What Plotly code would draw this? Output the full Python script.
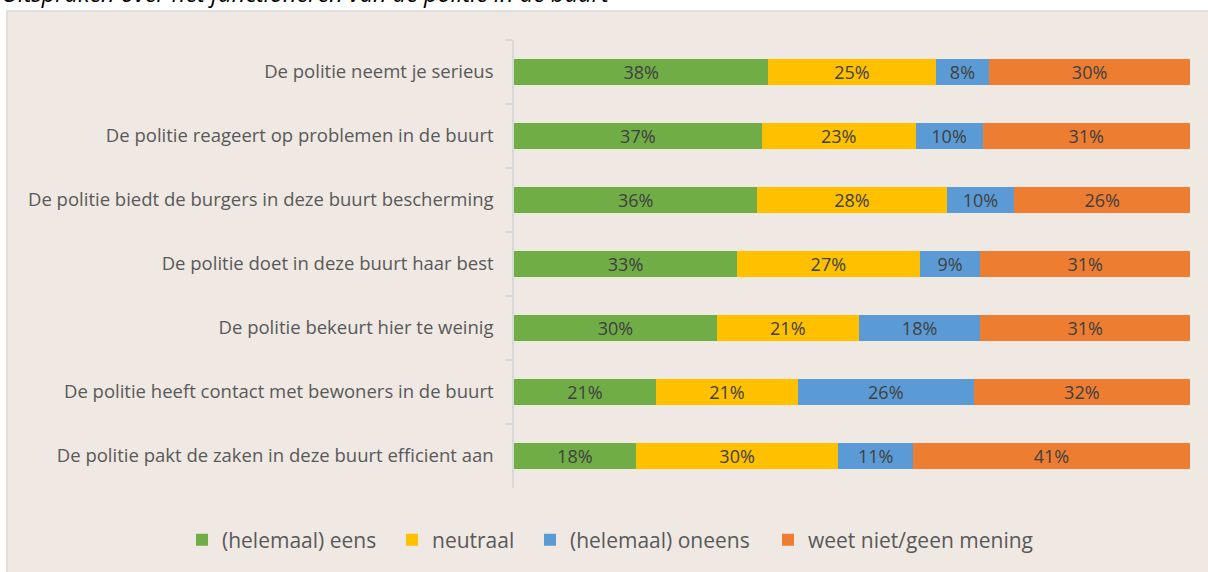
import plotly.graph_objects as go

# Statements about police functioning in the neighbourhood (share of respondents, %)
statements = [
    "De politie neemt je serieus",
    "De politie reageert op problemen in de buurt",
    "De politie biedt de burgers in deze buurt bescherming",
    "De politie doet in deze buurt haar best",
    "De politie bekeurt hier te weinig",
    "De politie heeft contact met bewoners in de buurt",
    "De politie pakt de zaken in deze buurt efficient aan",
]
eens = [38, 37, 36, 33, 30, 21, 18]
neutraal = [25, 23, 28, 27, 21, 21, 30]
oneens = [8, 10, 10, 9, 18, 26, 11]
weet_niet = [30, 31, 26, 31, 31, 32, 41]

series = [
    ("(helemaal) eens", eens, "#70ad47"),
    ("neutraal", neutraal, "#ffc000"),
    ("(helemaal) oneens", oneens, "#5b9bd5"),
    ("weet niet/geen mening", weet_niet, "#ed7d31"),
]

title_text = "Uitspraken over het functioneren van de politie in de buurt"

FONT = "Open Sans"
TEXT_GREY = "#595959"
PANEL_BG = "#efe8e3"

W, H = 1208, 572
L, R, T, B = 514, 18, 40, 84
pw, ph = W - L - R, H - T - B


def px_x(x):
    return (x - L) / pw


def px_y(y):
    return (H - B - y) / ph


# left edge (px) of each legend entry, one legend box per series
legend_left_px = [182, 392, 530, 768]
legend_ids = ["legend", "legend2", "legend3", "legend4"]

fig = go.Figure()
for (name, values, color), lid in zip(series, legend_ids):
    fig.add_trace(go.Bar(
        name=name,
        y=statements,
        x=values,
        orientation="h",
        marker=dict(color=color, line=dict(width=0)),
        text=[f"{v}%" for v in values],
        textposition="inside",
        insidetextanchor="middle",
        textangle=0,
        textfont=dict(family=FONT, size=18, color="#404040"),
        hoverinfo="skip",
        legend=lid,
        showlegend=True,
    ))

legend_layouts = {}
for lid, left in zip(legend_ids, legend_left_px):
    legend_layouts[lid] = dict(
        orientation="h",
        xref="paper",
        x=px_x(left),
        xanchor="left",
        yref="paper",
        y=px_y(540),
        yanchor="middle",
        font=dict(family=FONT, size=21, color=TEXT_GREY),
        bgcolor="rgba(0,0,0,0)",
        itemclick=False,
        itemdoubleclick=False,
    )

fig.update_layout(
    width=W,
    height=H,
    showlegend=True,
    barmode="stack",
    barnorm="percent",
    bargap=0.59,
    uniformtext=dict(minsize=18, mode="show"),
    margin=dict(l=L, r=R, t=T, b=B),
    paper_bgcolor="white",
    plot_bgcolor=PANEL_BG,
    font=dict(family=FONT, color=TEXT_GREY),
    xaxis=dict(
        range=[0, 100],
        visible=False,
        showgrid=False,
        zeroline=False,
    ),
    yaxis=dict(
        categoryorder="array",
        categoryarray=statements,
        autorange="reversed",
        showline=True,
        linecolor="#d9d9d9",
        linewidth=1.5,
        ticks="outside",
        tickson="boundaries",
        ticklen=7,
        tickcolor="#d9d9d9",
        tickwidth=1.5,
        ticklabelstandoff=15,
        tickfont=dict(family=FONT, size=18.5, color=TEXT_GREY),
        showgrid=False,
        zeroline=False,
    ),
    shapes=[
        dict(
            type="rect",
            xref="paper",
            yref="paper",
            x0=px_x(7),
            x1=px_x(W + 20),
            y0=px_y(H + 20),
            y1=px_y(11),
            fillcolor=PANEL_BG,
            line=dict(color="#d9d9d9", width=1.5),
            layer="below",
        )
    ],
    annotations=[
        dict(
            text=f"<i>{title_text}</i>",
            xref="paper",
            yref="paper",
            x=px_x(0),
            y=px_y(11),
            xanchor="left",
            yanchor="bottom",
            showarrow=False,
            font=dict(family=FONT, size=23.5, color="#000000"),
        )
    ],
    **legend_layouts,
)

fig.write_html("out.html")
